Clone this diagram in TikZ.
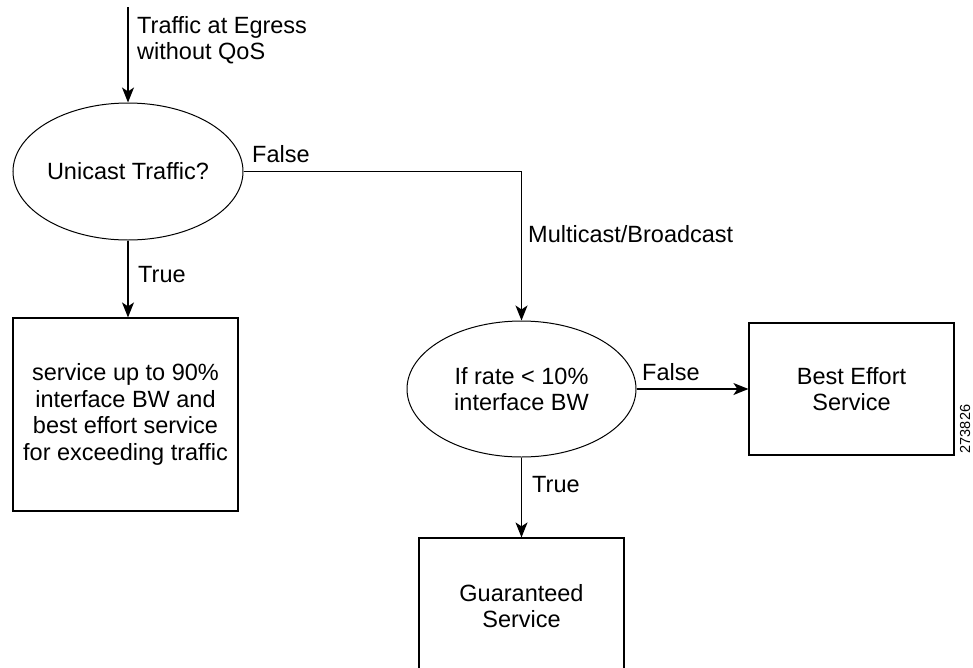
\documentclass[tikz,border=0pt]{standalone}
\usepackage{fontspec}
\setmainfont{Liberation Sans}
\usetikzlibrary{shapes.geometric,arrows.meta}
\begin{document}
\begin{tikzpicture}[x=1pt,y=-1pt,
  txt/.style={font=\fontsize{23.5}{26.5}\selectfont, inner sep=0pt, align=center},
  dec/.style={ellipse, draw, line width=1pt, inner sep=0pt, txt},
  boxn/.style={rectangle, draw, line width=1.2pt, inner sep=0pt, txt},
  arr/.style={line width=1.3pt, -{Stealth[length=15pt,width=12pt,inset=4pt]}},
  lab/.style={txt, align=left}]
\useasboundingbox (0,0) rectangle (973,667);
\clip (0,0) rectangle (973,667);

\node[dec, minimum width=230pt, minimum height=137pt] (e1) at (128,171.5) {Unicast Traffic?};
\node[boxn, minimum width=225pt, minimum height=193pt] (b1) at (125.5,414.5)
  {service up to 90\%\\interface BW and\\best effort service\\for exceeding traffic};
\node[dec, minimum width=229pt, minimum height=136pt] (e2) at (521.5,389) {If rate < 10\%\\interface BW};
\node[boxn, minimum width=205pt, minimum height=132pt] (be) at (851.5,389) {Best Effort\\Service};
\node[boxn, minimum width=205pt, minimum height=136pt] (g) at (521.5,606) {Guaranteed\\Service};

\coordinate (start) at (128,7);
\draw[arr] (start) -- (e1.north);
\draw[arr] (e1.south) -- (e1.south |- b1.north);
\draw[arr] (e1.east) -| (e2.north);
\draw[arr] (e2.east) -- (be.west);
\draw[arr] (e2.south) -- (g.north);

\node[lab, anchor=west] (tl) at (137,40) {Traffic at Egress\\without QoS};
\node[lab, anchor=base west] (f1) at (252,162) {False};
\node[lab, anchor=base west] (t1) at (138,282) {True};
\node[lab, anchor=base west] (mb) at (528,242) {Multicast/Broadcast};
\node[lab, anchor=base west] (f2) at (642,380) {False};
\node[lab, anchor=base west] (t2) at (532,492) {True};
\node[inner sep=0pt, rotate=90, font=\fontsize{14.5}{17}\selectfont] (id) at (965,429) {273826};
\end{tikzpicture}
\end{document}
